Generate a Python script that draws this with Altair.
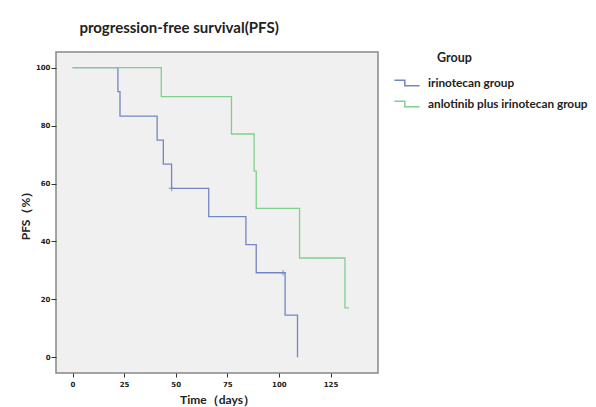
import altair as alt
import pandas as pd

# Kaplan-Meier step data
irino_days = [0, 22, 23, 41, 44, 48, 66, 84, 89, 103, 109]
irino_pfs = [100, 91.7, 83.3, 75.0, 66.7, 58.3, 48.6, 38.9, 29.2, 14.6, 0]
anlo_days = [0, 43, 77, 88, 89, 110, 132, 134]
anlo_pfs = [100, 90.0, 77.1, 64.3, 51.4, 34.3, 17.1, 17.1]
censor_days = [48, 102]
censor_pfs = [58.3, 29.2]
groups = ["irinotecan group", "anlotinib plus irinotecan group"]
colors = ["#7385c4", "#7fd08e"]
legend_title = ["Group"]

lines = pd.DataFrame(
    [{"t": d, "s": s, "Group": groups[0], "o": i} for i, (d, s) in enumerate(zip(irino_days, irino_pfs))]
    + [{"t": d, "s": s, "Group": groups[1], "o": i} for i, (d, s) in enumerate(zip(anlo_days, anlo_pfs))]
)
cens = pd.DataFrame({"t": censor_days, "s": censor_pfs, "Group": [groups[0]] * len(censor_days)})
ltitle = pd.DataFrame({"txt": legend_title})

xs = alt.Scale(domain=[-8, 148], nice=False, zero=False)
ys = alt.Scale(domain=[-5.4, 105.4], nice=False, zero=False)
cs = alt.Scale(domain=groups, range=colors)

xax = alt.Axis(values=[0, 25, 50, 75, 100, 125], title="Time（days）", grid=False, domain=False,
               tickColor="#333", tickSize=4, labelFontSize=7, labelFontWeight="bold", labelColor="#222",
               labelPadding=3, titleFontSize=12, titleFontWeight="bold", titleColor="#222", titlePadding=7,
               titleFont="Lato", labelFont="DejaVu Sans")
yax = alt.Axis(values=[0, 20, 40, 60, 80, 100], title="PFS（%）", grid=False, domain=False,
               tickColor="#333", tickSize=5, labelFontSize=7, labelFontWeight="bold", labelColor="#222",
               labelPadding=1, titleFontSize=12, titleFontWeight="bold", titleColor="#222", titlePadding=3,
               titleFont="Lato", labelFont="DejaVu Sans")

line = alt.Chart(lines).mark_line(interpolate="step-after", strokeWidth=1.3).encode(
    x=alt.X("t:Q", scale=xs, axis=xax),
    y=alt.Y("s:Q", scale=ys, axis=yax),
    order="o:Q",
    color=alt.Color("Group:N", scale=cs, legend=alt.Legend(
        title=None,
        orient="none", legendX=339, legendY=19,
        symbolType="M-1.15,-0.25L-0.2,-0.25L-0.2,0.25L1.15,0.25", symbolSize=480, symbolStrokeWidth=1.5,
        labelFontSize=11.8, labelFontWeight="bold", labelColor="#222", labelFont="Lato",
        rowPadding=2, labelOffset=9, labelLimit=300)),
)

cmark = alt.Chart(cens).mark_point(shape="M0,-1L0,1M-1,0L1,0", size=30, filled=False, strokeWidth=1.2).encode(
    x=alt.X("t:Q", scale=xs),
    y=alt.Y("s:Q", scale=ys),
    color=alt.Color("Group:N", scale=cs, legend=None),
)

gtitle = alt.Chart(ltitle).mark_text(align="left", baseline="middle", fontSize=12.5, fontWeight="bold",
                                     font="Lato", color="#222").encode(
    text="txt:N", x=alt.value(381), y=alt.value(6)
)

chart = alt.layer(line, cmark, gtitle).properties(
    width=322, height=321,
    autosize=alt.AutoSizeParams(type="none"),
    padding={"left": 48, "top": 44, "right": 210, "bottom": 45},
    title=alt.TitleParams("progression-free survival(PFS)", anchor="start", dx=60, offset=16,
                          fontSize=15, fontWeight="bold", font="Lato", color="#222"),
).configure_view(fill="#f0f0f0", stroke="#888", strokeWidth=1.5)

chart.save("out.html", embed_options={"renderer": "svg", "actions": False})
